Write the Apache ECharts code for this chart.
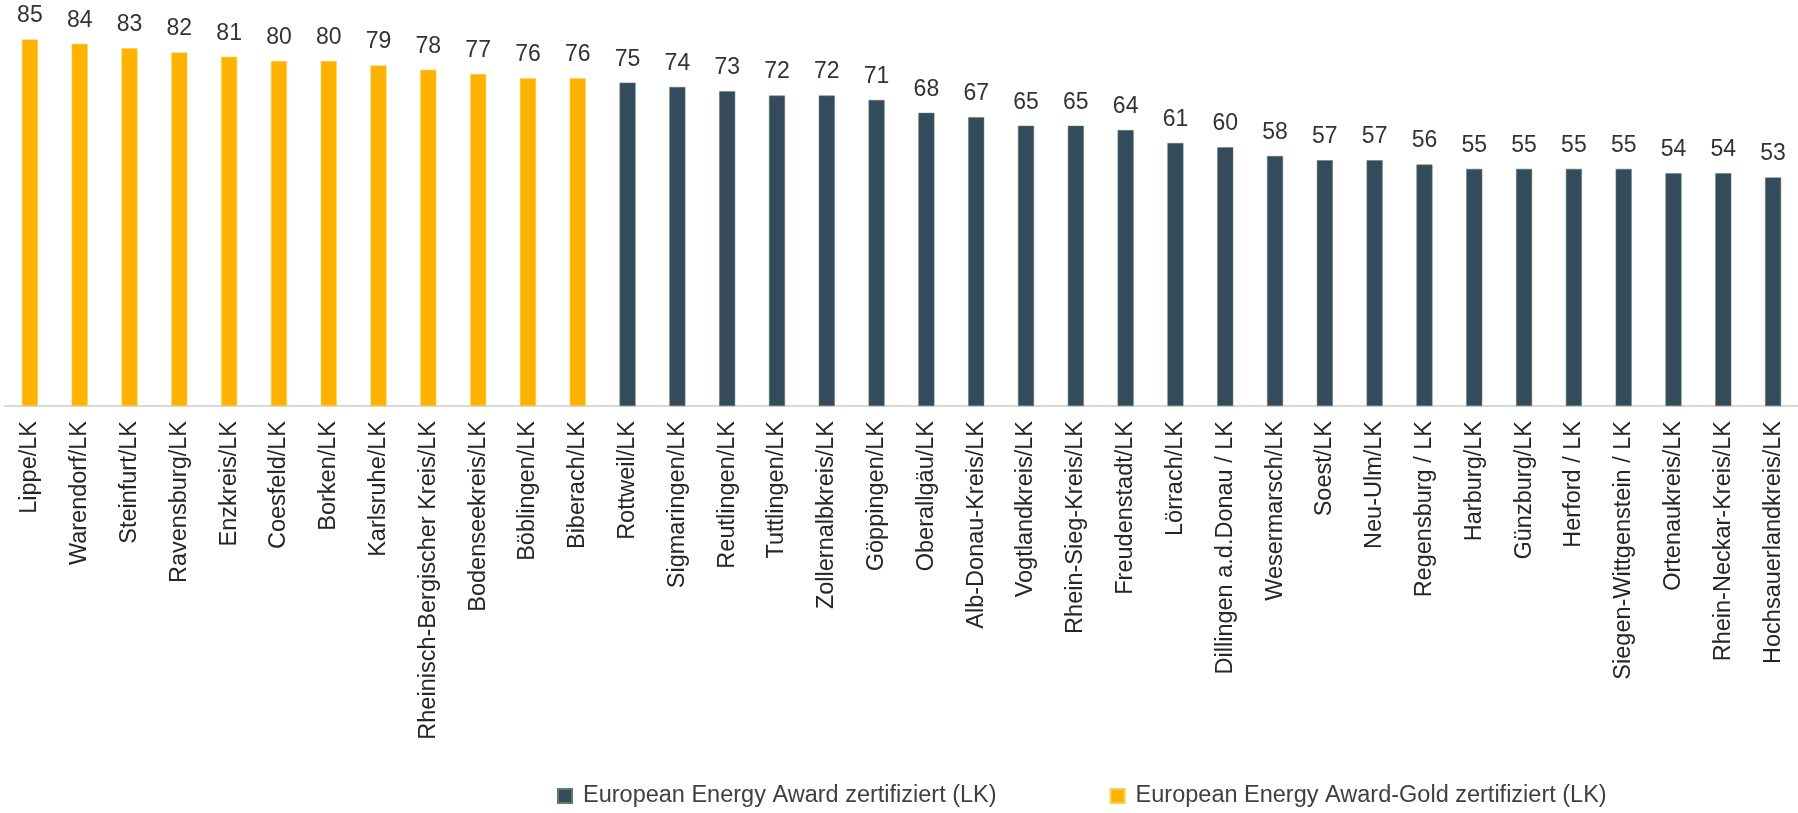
<!DOCTYPE html>
<html><head><meta charset="utf-8">
<script src="https://cdn.jsdelivr.net/npm/echarts@6/dist/echarts.min.js"></script>
<style>html,body{margin:0;padding:0;background:#fff}#c{width:1798px;height:813px}</style>
</head><body><div id="c"></div>
<script>
const categories = ["Lippe/LK","Warendorf/LK","Steinfurt/LK","Ravensburg/LK","Enzkreis/LK","Coesfeld/LK","Borken/LK","Karlsruhe/LK","Rheinisch-Bergischer Kreis/LK","Bodenseekreis/LK","Böblingen/LK","Biberach/LK","Rottweil/LK","Sigmaringen/LK","Reutlingen/LK","Tuttlingen/LK","Zollernalbkreis/LK","Göppingen/LK","Oberallgäu/LK","Alb-Donau-Kreis/LK","Vogtlandkreis/LK","Rhein-Sieg-Kreis/LK","Freudenstadt/LK","Lörrach/LK","Dillingen a.d.Donau / LK","Wesermarsch/LK","Soest/LK","Neu-Ulm/LK","Regensburg / LK","Harburg/LK","Günzburg/LK","Herford / LK","Siegen-Wittgenstein / LK","Ortenaukreis/LK","Rhein-Neckar-Kreis/LK","Hochsauerlandkreis/LK"];
const goldValues = [85,84,83,82,81,80,80,79,78,77,76,76,'-','-','-','-','-','-','-','-','-','-','-','-','-','-','-','-','-','-','-','-','-','-','-','-'];
const eeaValues = ['-','-','-','-','-','-','-','-','-','-','-','-',75,74,73,72,72,71,68,67,65,65,64,61,60,58,57,57,56,55,55,55,55,54,54,53];
const seriesNames = ["European Energy Award zertifiziert (LK)","European Energy Award-Gold zertifiziert (LK)"];

const font = "'Liberation Sans', Arial, sans-serif";
const label = {show:true, position:'top', distance:12, fontSize:23, color:'#333333', fontFamily:font};
const chart = echarts.init(document.getElementById('c'));
chart.setOption({
  animation:false,
  grid:{left:5, right:0, top:18, height:388, containLabel:false},
  legend:{top:779, left:552, itemWidth:14, itemHeight:14, itemGap:113, icon:'rect',
    textStyle:{fontSize:23.5, color:'#404040', fontFamily:font, padding:[0,0,0,6]}, data:seriesNames},
  xAxis:{type:'category', data:categories,
    axisLine:{lineStyle:{color:'#d9d9d9', width:2}}, axisTick:{show:false},
    axisLabel:{rotate:90, interval:0, margin:15, fontSize:23.5, color:'#262626', fontFamily:font}},
  yAxis:{type:'value', min:0, max:90, show:false, splitLine:{show:false}},
  series:[
    {name:seriesNames[0], type:'bar', stack:'a', data:eeaValues, barWidth:16,
      itemStyle:{color:'#344B5C', borderColor:'#5E7C66', borderWidth:0.5}, label:label},
    {name:seriesNames[1], type:'bar', stack:'a', data:goldValues, barWidth:16,
      itemStyle:{color:'#FFB300', borderColor:'#F3D24E', borderWidth:0.5}, label:label}
  ]
});
</script></body></html>
